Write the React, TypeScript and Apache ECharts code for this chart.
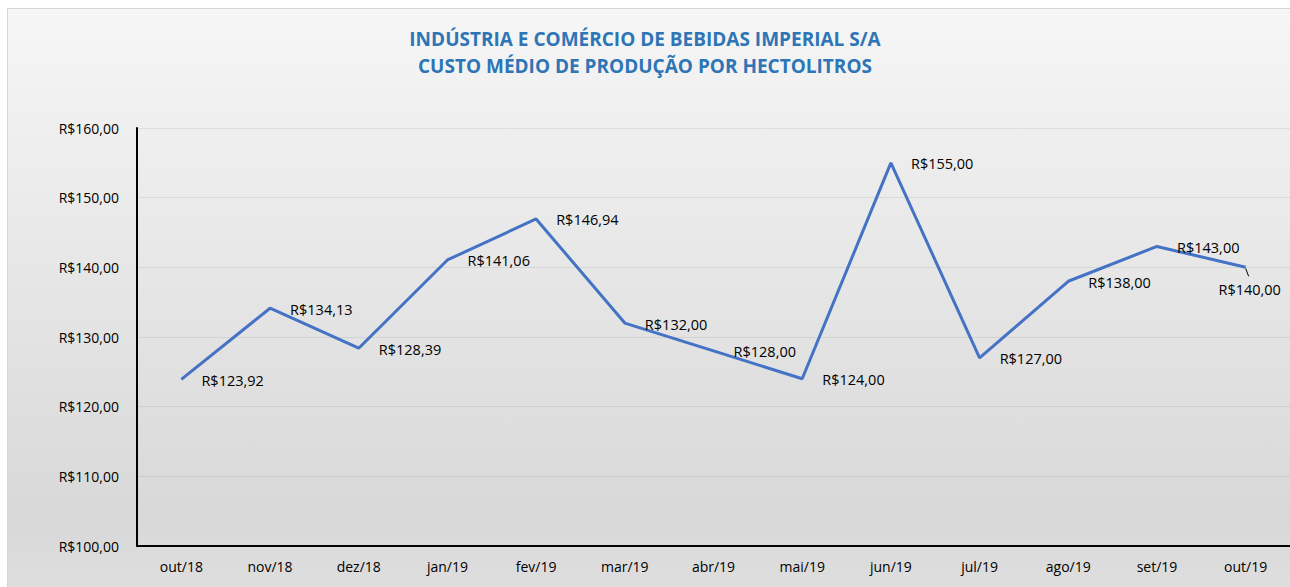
import React, { useEffect, useRef } from "react";
import * as echarts from "echarts";

const categories = ["out/18", "nov/18", "dez/18", "jan/19", "fev/19", "mar/19", "abr/19", "mai/19", "jun/19", "jul/19", "ago/19", "set/19", "out/19"];
const custo = [123.92, 134.13, 128.39, 141.06, 146.94, 132.0, 128.0, 124.0, 155.0, 127.0, 138.0, 143.0, 140.0];
const titleLines = ["INDÚSTRIA E COMÉRCIO DE BEBIDAS IMPERIAL S/A", "CUSTO MÉDIO DE PRODUÇÃO POR HECTOLITROS"];
const yMin = 100;
const yMax = 160;
const yStep = 10;

const FONT = "'Open Sans', sans-serif";
const brl = (v: number) => "R$" + v.toFixed(2).replace(".", ",");

const bgRect = () => ({
  type: "rect",
  z: -10,
  silent: true,
  shape: { x: 7.5, y: 8.5, width: 1300, height: 600 },
  style: {
    fill: new echarts.graphic.LinearGradient(0, 0, 0, 1, [
      { offset: 0, color: "#f6f6f6" },
      { offset: 0.85, color: "#d8d8d8" },
      { offset: 1, color: "#e0e0e0" },
    ]),
    stroke: "#d4d4d4",
    lineWidth: 1,
  },
});

export default function App() {
  const ref = useRef<HTMLDivElement>(null);
  useEffect(() => {
    if (!ref.current) return;
    const chart = echarts.init(ref.current, undefined, { renderer: "svg" });
    const last = custo.length - 1;
    chart.setOption({
      animation: false,
      backgroundColor: "#ffffff",
      title: {
        text: titleLines.join("\n"),
        left: "center",
        top: 20,
        textStyle: { color: "#2E75B6", fontSize: 19, fontWeight: "bold", fontFamily: FONT, lineHeight: 27 },
      },
      graphic: [bgRect()],
      grid: { left: 137, top: 128, width: 1154, height: 418, containLabel: false },
      xAxis: {
        type: "category",
        data: categories,
        boundaryGap: true,
        axisLine: { show: true, lineStyle: { color: "#000", width: 2 } },
        axisTick: { show: false },
        axisLabel: { color: "#000", fontSize: 14, fontFamily: FONT, margin: 13 },
        splitLine: { show: false },
      },
      yAxis: {
        type: "value",
        min: yMin,
        max: yMax,
        interval: yStep,
        axisLine: { show: true, lineStyle: { color: "#000", width: 2 } },
        axisTick: { show: false },
        axisLabel: { color: "#000", fontSize: 14, fontFamily: FONT, margin: 18, formatter: (v: number) => brl(v) },
        splitLine: { show: true, lineStyle: { color: "rgba(0,0,0,0.07)", width: 1 } },
      },
      series: [
        {
          type: "line",
          data: custo.map((v, i) =>
            i === last
              ? { value: v, label: { position: "bottom", distance: 5, offset: [4, 10] } }
              : { value: v }
          ),
          showSymbol: true,
          symbol: "circle",
          symbolSize: 0.1,
          lineStyle: { color: "#4472C4", width: 3 },
          itemStyle: { color: "rgba(0,0,0,0)" },
          label: {
            show: true,
            position: "right",
            distance: 20,
            offset: [0, 1],
            color: "#000",
            fontSize: 14.5,
            fontFamily: FONT,
            formatter: (p: any) => brl(p.value),
          },
        },
      ],
    });
    const pt = chart.convertToPixel({ gridIndex: 0 }, [last, custo[last]]) as number[];
    chart.setOption({
      graphic: [
        bgRect(),
        {
          type: "line",
          silent: true,
          shape: { x1: pt[0], y1: pt[1] + 1, x2: pt[0] + 3, y2: pt[1] + 9 },
          style: { stroke: "#000", lineWidth: 1 },
        },
      ],
    });
    return () => chart.dispose();
  }, []);
  return <div ref={ref} style={{ position: "fixed", left: 0, top: 0, width: 1290, height: 587 }} />;
}
